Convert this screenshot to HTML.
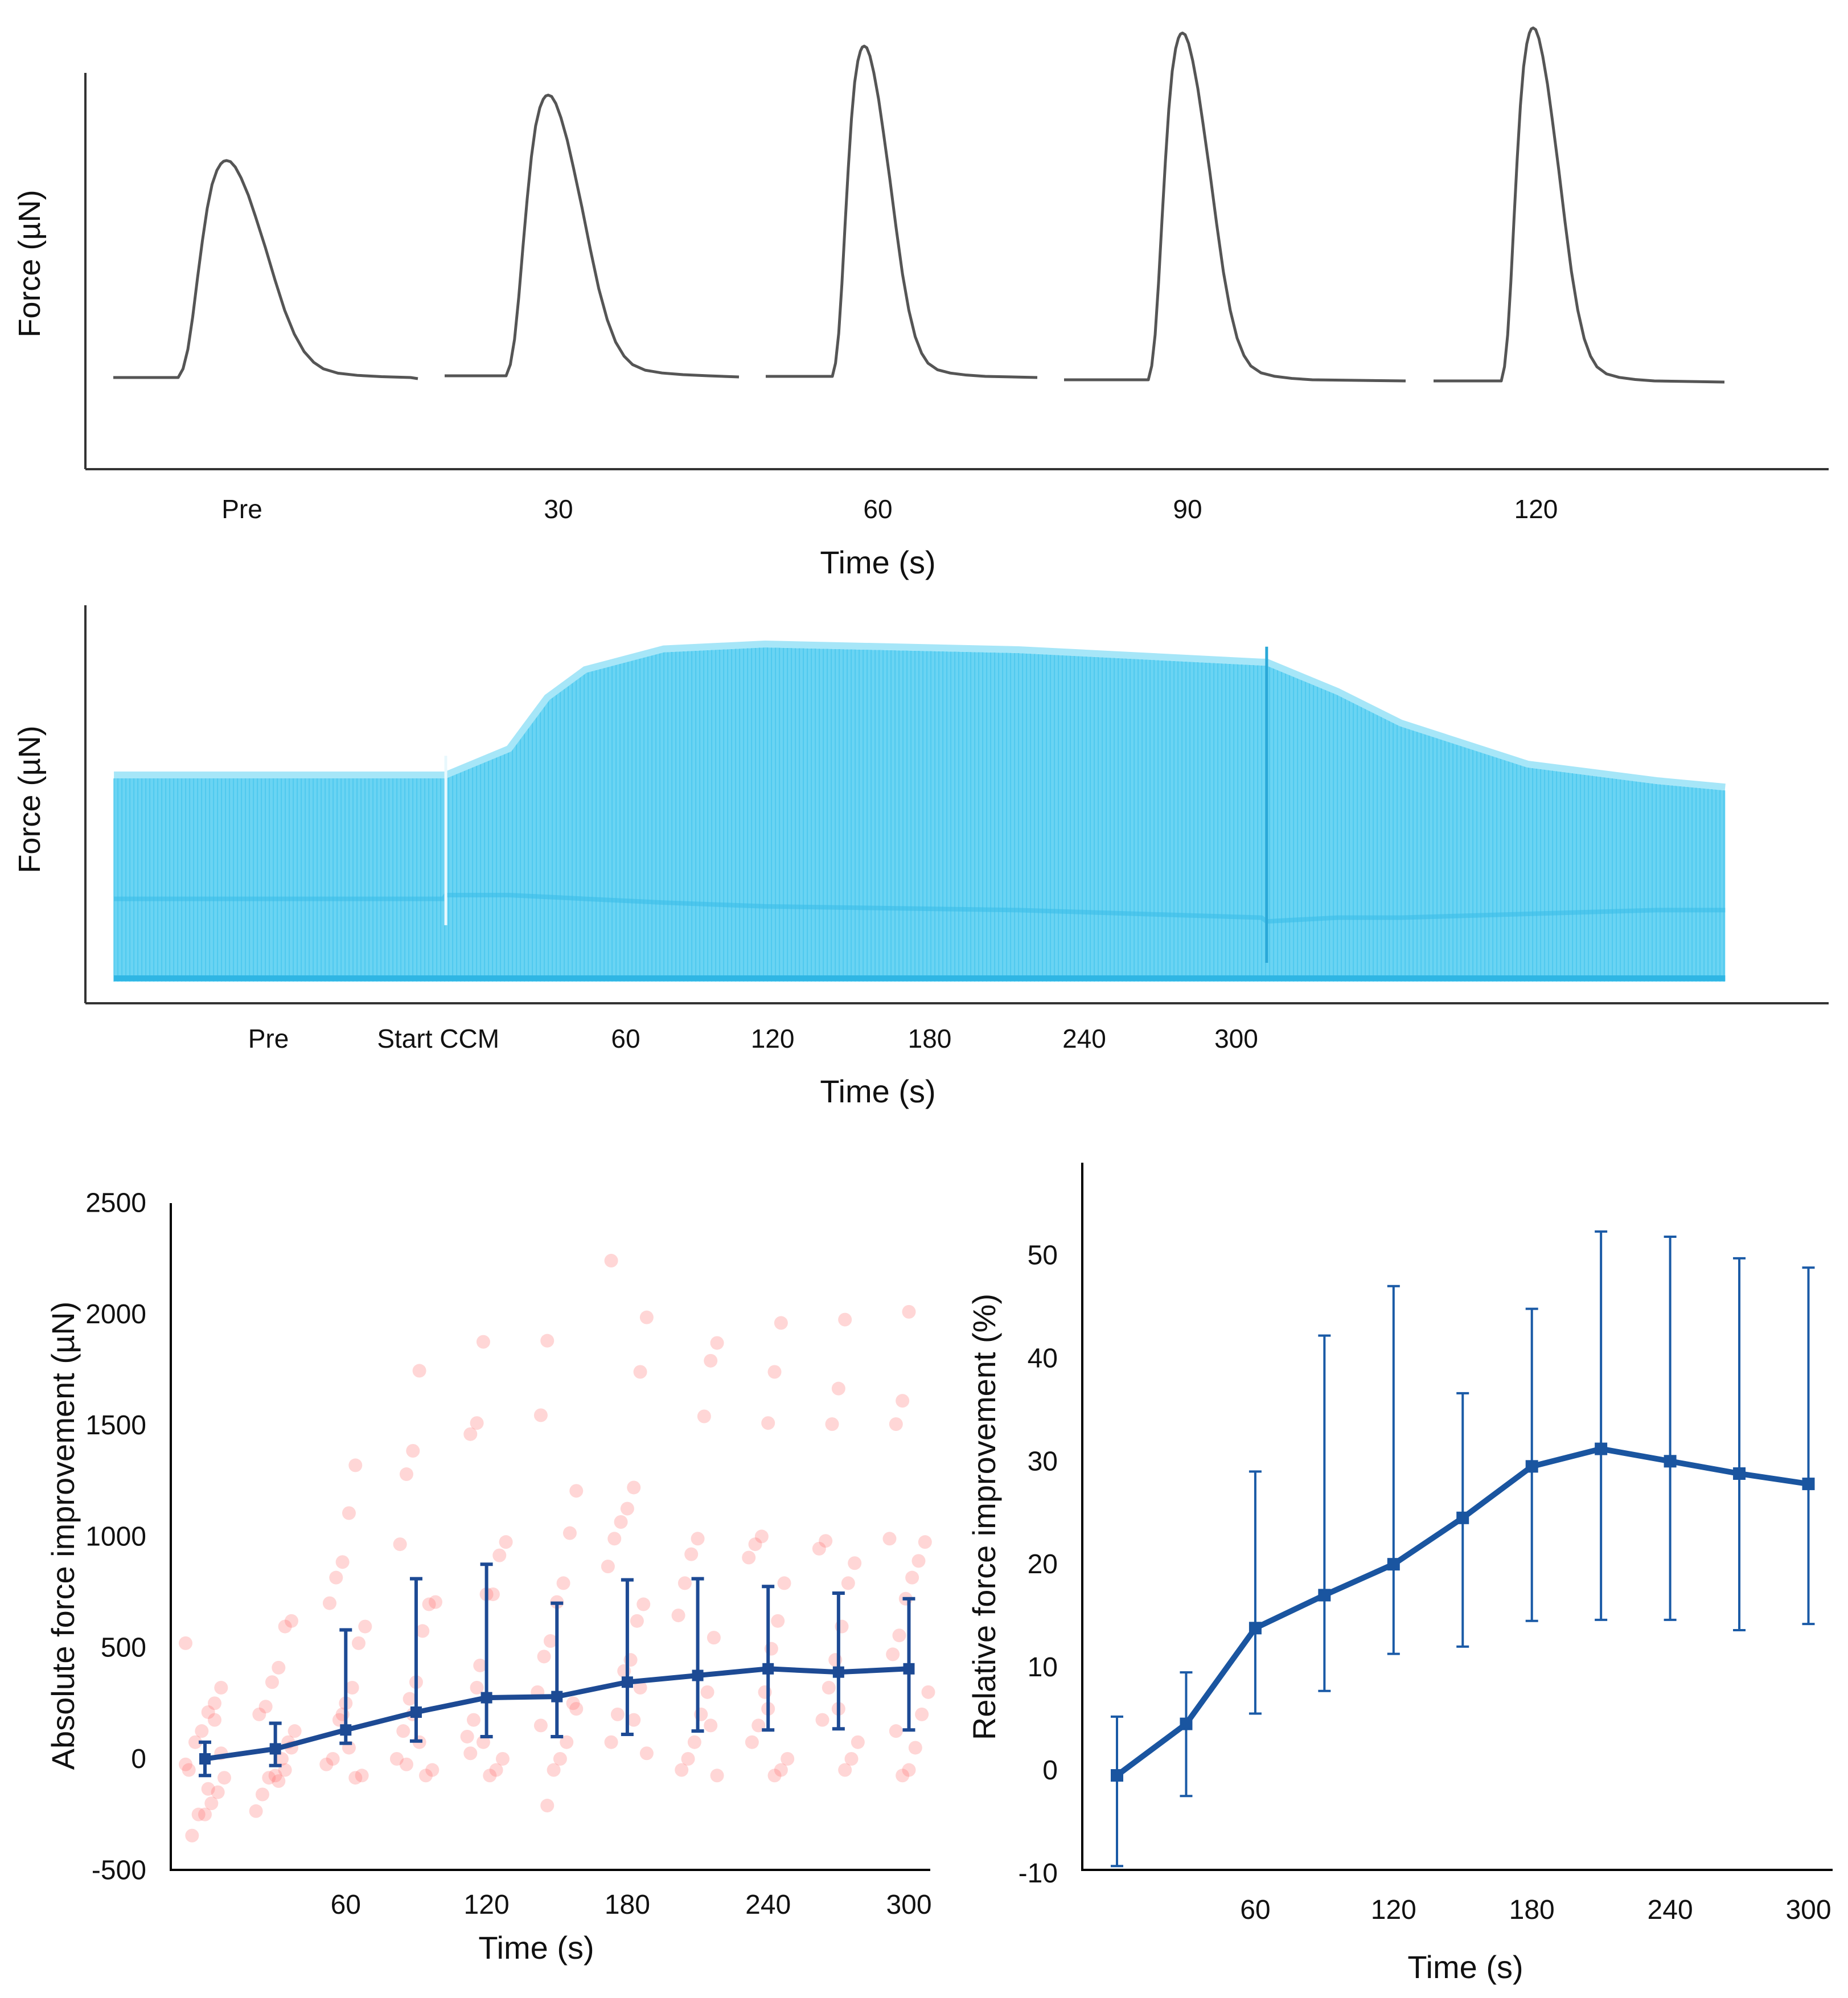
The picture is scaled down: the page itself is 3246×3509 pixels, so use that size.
<!DOCTYPE html>
<html><head><meta charset="utf-8">
<style>
html,body{margin:0;padding:0;background:#fff;}
svg{display:block;font-family:"Liberation Sans",Arial,sans-serif;}
</style></head>
<body>
<svg id="fig" width="3246" height="3509" viewBox="0 0 3246 3509" xmlns="http://www.w3.org/2000/svg">
  <rect width="3246" height="3509" fill="#fff"/>
  <g id="panelA">
    <line x1="150" y1="128" x2="150" y2="824" stroke="#333" stroke-width="4"/>
    <line x1="150" y1="824" x2="3212" y2="824" stroke="#333" stroke-width="4"/>
    <text transform="translate(70,463) rotate(-90)" text-anchor="middle" font-size="54" fill="#111">Force (µN)</text>
    <text x="1542" y="1007" text-anchor="middle" font-size="56" fill="#111">Time (s)</text>
    <g id="tracesA"></g>
    <g id="labelsA"></g>
  </g>
  <g id="panelB">
    <g id="recB"></g>
    <line x1="150" y1="1063" x2="150" y2="1762" stroke="#333" stroke-width="4"/>
    <line x1="150" y1="1762" x2="3212" y2="1762" stroke="#333" stroke-width="4"/>
    <text transform="translate(70,1404) rotate(-90)" text-anchor="middle" font-size="54" fill="#111">Force (µN)</text>
    <text x="1542" y="1936" text-anchor="middle" font-size="56" fill="#111">Time (s)</text>
    <g id="labelsB"></g>
  </g>
  <g id="panelC">
    <g id="scatterC"></g>
    <g id="plotC"></g>
    <line x1="300" y1="2113" x2="300" y2="3286" stroke="#000" stroke-width="4"/>
    <line x1="298" y1="3284" x2="1634" y2="3284" stroke="#000" stroke-width="4"/>
    <g id="ticksC"></g>
    <text transform="translate(130,2697) rotate(-90)" text-anchor="middle" font-size="56" fill="#111">Absolute force improvement (µN)</text>
    <text x="942" y="3440" text-anchor="middle" font-size="56" fill="#111">Time (s)</text>
  </g>
  <g id="panelD">
    <g id="plotD"></g>
    <line x1="1901" y1="2042" x2="1901" y2="3286" stroke="#000" stroke-width="4"/>
    <line x1="1899" y1="3284" x2="3219" y2="3284" stroke="#000" stroke-width="4"/>
    <g id="ticksD"></g>
    <text transform="translate(1748,2664) rotate(-90)" text-anchor="middle" font-size="56" fill="#111">Relative force improvement (%)</text>
    <text x="2574" y="3474" text-anchor="middle" font-size="56" fill="#111">Time (s)</text>
  </g>
</svg>
<script>
const NS="http://www.w3.org/2000/svg";
function mk(tag,attrs,parent){const e=document.createElementNS(NS,tag);for(const k in attrs)e.setAttribute(k,attrs[k]);parent.appendChild(e);return e;}

const traceLabelsA=["Pre","30","60","90","120"];
const traceAmplitudesA=[381,493,580,609,620];
const traceBaselinesA=[663,660,661,667,669];
const traceRiseStartsA=[313,889,1462,2017,2637];
const traceRiseTimesA=[85,74,56,60,56];
const traceSegStartA=[199,781,1345,1869,2518];
const traceSegEndA=[734,1298,1822,2469,3029];
const labelXA=[425,981,1542,2086,2698];
const templateU=[-1,-0.9,-0.8,-0.7,-0.6,-0.5,-0.4,-0.3,-0.2,-0.12,-0.06,0,0.08,0.18,0.3,0.45,0.6,0.8,1.0,1.2,1.4,1.6,1.8,2.0,2.3,2.7,3.2,3.8];
const templateV=[0,0.04,0.13,0.28,0.46,0.63,0.78,0.89,0.955,0.985,0.997,1,0.995,0.97,0.92,0.84,0.74,0.6,0.45,0.31,0.2,0.12,0.07,0.04,0.02,0.01,0.004,0];

const gA=document.getElementById('tracesA');
traceLabelsA.forEach((lab,i)=>{
  const rt=traceRiseTimesA[i], peakX=traceRiseStartsA[i]+rt, b=traceBaselinesA[i], amp=traceAmplitudesA[i];
  let pts=[[traceSegStartA[i],b]];
  templateU.forEach((u,j)=>pts.push([peakX+u*rt, b-templateV[j]*amp]));
  pts.push([traceSegEndA[i],b+2]);
  const p=mk('polyline',{points:pts.map(p=>p.join(',')).join(' '),fill:'none',stroke:'#555','stroke-width':5,'stroke-linejoin':'round'},gA);
  
  
  const t=mk('text',{x:labelXA[i],y:910,'text-anchor':'middle','font-size':46,fill:'#111'},document.getElementById('labelsA'));
  t.textContent=lab;
  
  
});

const envTimesB=[-142,-12,-11,14,29,44,75,115,215,311,313,341,366,416,467,494];
const envForceB=[0.54,0.54,0.54,0.61,0.746,0.82,0.875,0.888,0.873,0.84,0.84,0.762,0.678,0.569,0.525,0.508];
const troughForceB=[0.22,0.22,0.23,0.23,0.225,0.22,0.21,0.2,0.19,0.17,0.16,0.17,0.17,0.18,0.19,0.19];
const tickLabelsB=["Pre","Start CCM","60","120","180","240","300"];
const tickTimesB=[-81,-14,60,118,180,241,301];
function xB(t){return 832+t*4.45;}
function yB(f){return 1724-f*661;}
function interp(ts,vs,t){for(let i=0;i<ts.length-1;i++){if(t>=ts[i]&&t<=ts[i+1]){const r=(t-ts[i])/((ts[i+1]-ts[i])||1);return vs[i]+r*(vs[i+1]-vs[i]);}}return vs[vs.length-1];}
const gB=document.getElementById('recB');
let polyB=[[xB(envTimesB[0]),yB(0)]];
envTimesB.forEach((t,i)=>polyB.push([xB(t),yB(envForceB[i])]));
polyB.push([xB(envTimesB[envTimesB.length-1]),yB(0)]);
const fillB=mk('polygon',{points:polyB.map(p=>p.join(',')).join(' '),fill:'#6ad4f3'},gB);


let pathB='';
for(let x=xB(envTimesB[0]);x<=xB(envTimesB[envTimesB.length-1]);x+=7){
  const t=(x-832)/4.45; const f=interp(envTimesB,envForceB,t);
  pathB+=`M${x.toFixed(1)},${yB(0)}V${yB(f).toFixed(1)}`;
}
const linesB=mk('path',{d:pathB,stroke:'#45c5ec','stroke-width':2,'stroke-opacity':0.7,fill:'none'},gB);


const troughB=mk('polyline',{points:envTimesB.map((t,i)=>xB(t)+','+yB(troughForceB[i])).join(' '),fill:'none',stroke:'#3bbde8','stroke-width':8,'stroke-opacity':0.6},gB);


const topBandB=mk('polyline',{points:envTimesB.map((t,i)=>xB(t)+','+(yB(envForceB[i])-6)).join(' '),fill:'none',stroke:'#a6e6f8','stroke-width':12},gB);


const baseB=mk('line',{x1:xB(envTimesB[0]),x2:xB(envTimesB[envTimesB.length-1]),y1:yB(0)-6,y2:yB(0)-6,stroke:'#2fb6e4','stroke-width':10},gB);


const sp1=mk('line',{x1:xB(-11),x2:xB(-11),y1:yB(0.6),y2:yB(0.15),stroke:'#e8f8fd','stroke-width':5},gB);


const sp2=mk('line',{x1:xB(313),x2:xB(313),y1:yB(0.89),y2:yB(0.05),stroke:'#2aa8d8','stroke-width':5},gB);


tickLabelsB.forEach((lab,i)=>{
  const t=mk('text',{x:xB(tickTimesB[i]),y:1840,'text-anchor':'middle','font-size':46,fill:'#111'},document.getElementById('labelsB'));
  t.textContent=lab;
  
  
});

const timesC=[0,30,60,90,120,150,180,210,240,270,300];
const meanC=[0,45,130,210,275,280,345,375,405,390,405];
const upperC=[75,160,580,810,875,700,805,810,775,745,720];
const lowerC=[-75,-30,70,80,100,100,110,125,130,135,130];
const scatterC=[
 [520,320,250,210,125,75,-50,-85,-150,-200,-250,-250,-345,-25,25,175,-135],
 [620,595,410,345,235,200,125,75,0,-75,-85,-160,-235,50,-50,-100],
 [1320,1105,885,815,700,595,520,320,250,175,0,-25,-75,-85,50,200],
 [1745,1385,1280,965,705,695,575,345,270,125,0,-50,-75,75,200,-25],
 [1875,1510,1460,975,915,740,740,420,175,100,0,-50,-75,75,320,25],
 [1880,1545,1205,1015,790,705,530,460,300,250,75,0,-50,-210,150,225],
 [2240,1985,1740,1220,1125,1065,990,865,695,620,445,395,200,75,25,320,175],
 [1870,1790,1540,990,920,790,645,545,300,200,75,0,-50,-75,150],
 [1960,1740,1510,1000,965,905,790,620,495,300,150,75,0,-50,-75,225],
 [1975,1665,1505,980,945,880,790,595,445,320,175,75,0,-50,225],
 [2010,1610,1505,990,975,890,815,720,555,470,300,200,50,-50,-75,125]
];
const yTicksC=[-500,0,500,1000,1500,2000,2500];
const xTicksC=[60,120,180,240,300];
function xC(t){return 360+t*247.3/60;}
function yC(v){return 3089-v*195.3/500;}
const gS=document.getElementById('scatterC');
scatterC.forEach((grp,gi)=>{
  grp.forEach((v,j)=>{
    const jit=(((j*37+gi*11)%13)-6)/6*34;
    const c=mk('circle',{cx:xC(timesC[gi])+jit,cy:yC(v),r:12,fill:'#ff6b6b','fill-opacity':0.28},gS);
    
    
  });
});
const gC=document.getElementById('plotC');
timesC.forEach((t,i)=>{
  const x=xC(t);
  const e=mk('path',{d:`M${x},${yC(upperC[i])}V${yC(lowerC[i])}M${x-11},${yC(upperC[i])}H${x+11}M${x-11},${yC(lowerC[i])}H${x+11}`,stroke:'#1d4a94','stroke-width':6,fill:'none'},gC);
  
  
});
const lc=mk('polyline',{points:timesC.map((t,i)=>xC(t)+','+yC(meanC[i])).join(' '),fill:'none',stroke:'#1d4a94','stroke-width':9,'stroke-linejoin':'round'},gC);


timesC.forEach((t,i)=>{
  const m=mk('rect',{x:xC(t)-10,y:yC(meanC[i])-10,width:20,height:20,fill:'#1d4a94'},gC);
  
  
});
const gTC=document.getElementById('ticksC');
yTicksC.forEach(v=>{
  const t=mk('text',{x:257,y:yC(v)+16,'text-anchor':'end','font-size':48,fill:'#111'},gTC);
  t.textContent=v;
  
  
});
xTicksC.forEach(v=>{
  const t=mk('text',{x:xC(v),y:3361,'text-anchor':'middle','font-size':48,fill:'#111'},gTC);
  t.textContent=v;
  
  
});

const timesD=[0,30,60,90,120,150,180,210,240,270,300];
const meanD=[-0.5,4.5,13.8,17,20,24.5,29.5,31.2,30,28.8,27.8];
const upperD=[5.2,9.5,29,42.2,47,36.6,44.8,52.3,51.8,49.7,48.8];
const lowerD=[-9.3,-2.5,5.5,7.7,11.3,12,14.5,14.6,14.6,13.6,14.2];
const yTicksD=[-10,0,10,20,30,40,50];
const xTicksD=[60,120,180,240,300];
function xD(t){return 1962+t*242.9/60;}
function yD(v){return 3109-v*18.09;}
const gD=document.getElementById('plotD');
timesD.forEach((t,i)=>{
  const x=xD(t);
  const e=mk('path',{d:`M${x},${yD(upperD[i])}V${yD(lowerD[i])}M${x-11},${yD(upperD[i])}H${x+11}M${x-11},${yD(lowerD[i])}H${x+11}`,stroke:'#1a5aa6','stroke-width':4,fill:'none'},gD);
  
  
});
const ld=mk('polyline',{points:timesD.map((t,i)=>xD(t)+','+yD(meanD[i])).join(' '),fill:'none',stroke:'#1a55a0','stroke-width':10,'stroke-linejoin':'round'},gD);


timesD.forEach((t,i)=>{
  const m=mk('rect',{x:xD(t)-11,y:yD(meanD[i])-11,width:22,height:22,fill:'#1a55a0'},gD);
  
  
});
const gTD=document.getElementById('ticksD');
yTicksD.forEach(v=>{
  const t=mk('text',{x:1858,y:yD(v)+16,'text-anchor':'end','font-size':48,fill:'#111'},gTD);
  t.textContent=v;
  
  
});
xTicksD.forEach(v=>{
  const t=mk('text',{x:xD(v),y:3370,'text-anchor':'middle','font-size':48,fill:'#111'},gTD);
  t.textContent=v;
  
  
});
</script>
</body></html>
